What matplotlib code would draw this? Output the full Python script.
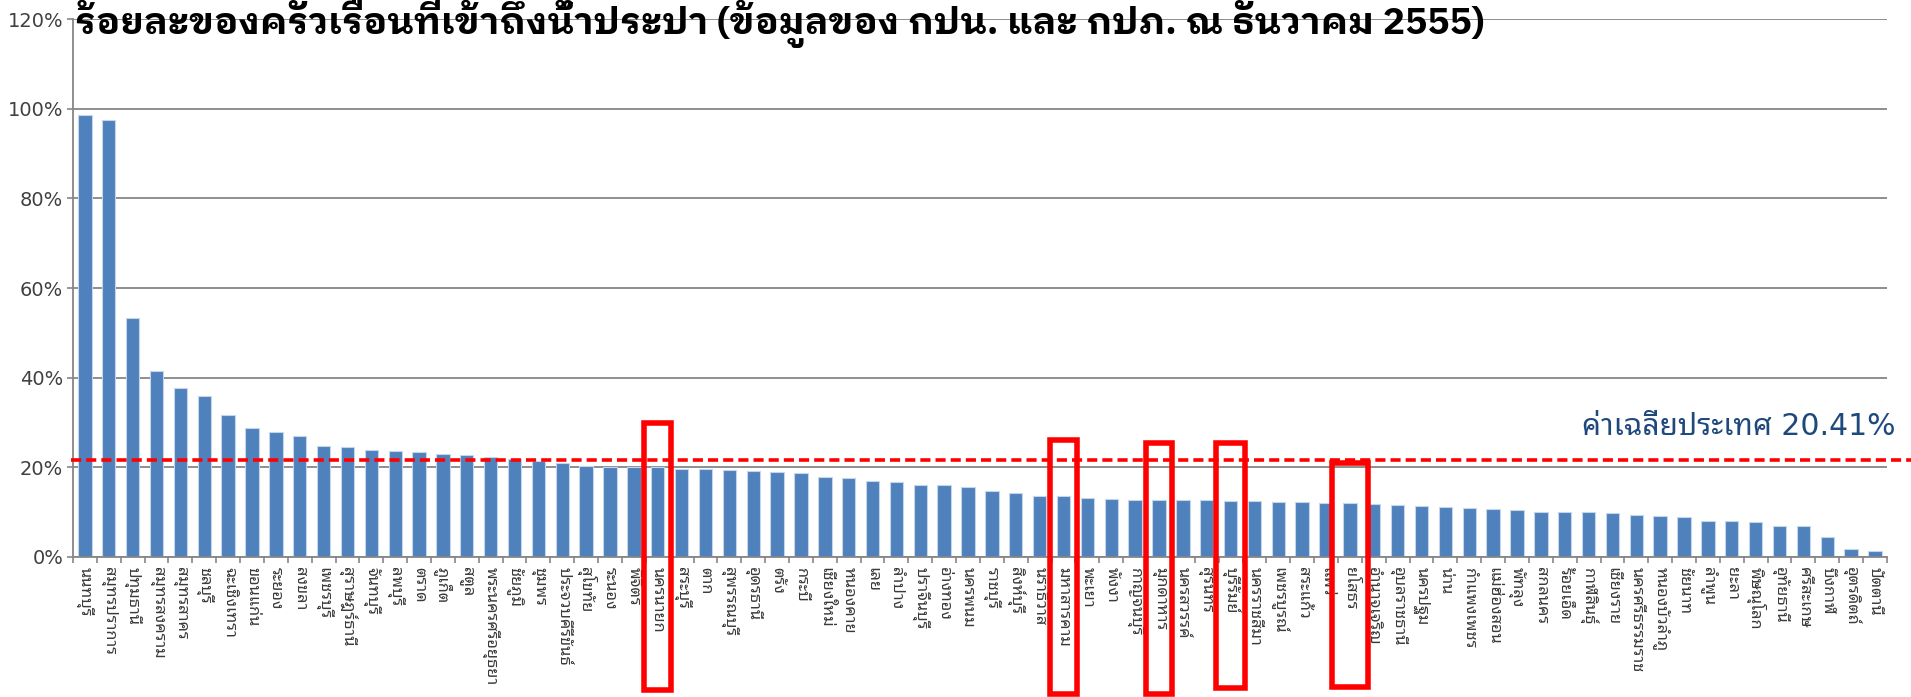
import numpy as np
import matplotlib
matplotlib.use("Agg")
import matplotlib.pyplot as plt
from matplotlib.patches import Rectangle

THAI = ['Noto Sans Thai Looped', 'DejaVu Sans']
TITLE_FONT = ['IBM Plex Sans Thai Looped', 'Noto Sans Thai Looped', 'DejaVu Sans']
LATIN_THAI = ['DejaVu Sans', 'Noto Sans Thai Looped']

provinces = [
    "นนทบุรี", "สมุทรปราการ", "ปทุมธานี", "สมุทรสงคราม", "สมุทรสาคร", "ชลบุรี",
    "ฉะเชิงเทรา", "ขอนแก่น", "ระยอง", "สงขลา", "เพชรบุรี", "สุราษฎร์ธานี",
    "จันทบุรี", "ลพบุรี", "ตราด", "ภูเก็ต", "สตูล", "พระนครศรีอยุธยา",
    "ชัยภูมิ", "ชุมพร", "ประจวบคีรีขันธ์", "สุโขทัย", "ระนอง", "พิจิตร",
    "นครนายก", "สระบุรี", "ตาก", "สุพรรณบุรี", "อุดรธานี", "ตรัง",
    "กระบี่", "เชียงใหม่", "หนองคาย", "เลย", "ลำปาง", "ปราจีนบุรี",
    "อ่างทอง", "นครพนม", "ราชบุรี", "สิงห์บุรี", "นราธิวาส", "มหาสารคาม",
    "พะเยา", "พังงา", "กาญจนบุรี", "มุกดาหาร", "นครสวรรค์", "สุรินทร์",
    "บุรีรัมย์", "นครราชสีมา", "เพชรบูรณ์", "สระแก้ว", "แพร่", "ยโสธร",
    "อำนาจเจริญ", "อุบลราชธานี", "นครปฐม", "น่าน", "กำแพงเพชร", "แม่ฮ่องสอน",
    "พัทลุง", "สกลนคร", "ร้อยเอ็ด", "กาฬสินธุ์", "เชียงราย", "นครศรีธรรมราช",
    "หนองบัวลำภู", "ชัยนาท", "ลำพูน", "ยะลา", "พิษณุโลก", "อุทัยธานี",
    "ศรีสะเกษ", "บึงกาฬ", "อุตรดิตถ์", "ปัตตานี",
]

access_pct = [
    98.6, 97.4, 53.4, 41.5, 37.8, 35.8, 31.6, 28.7, 27.9, 27.0, 24.8, 24.5,
    23.8, 23.7, 23.5, 23.0, 22.7, 22.3, 21.9, 21.3, 21.0, 20.4, 20.1, 20.1,
    20.0, 19.7, 19.6, 19.5, 19.1, 18.9, 18.8, 17.8, 17.6, 17.0, 16.7, 16.1,
    16.1, 15.5, 14.8, 14.2, 13.7, 13.5, 13.2, 12.9, 12.8, 12.7, 12.6, 12.6,
    12.4, 12.4, 12.3, 12.3, 12.1, 12.0, 11.9, 11.6, 11.4, 11.2, 11.0, 10.7,
    10.4, 10.1, 10.1, 10.0, 9.8, 9.4, 9.1, 8.9, 8.1, 8.0, 7.8, 6.8,
    6.8, 4.4, 1.7, 1.3,
]

y_ticks = [0, 20, 40, 60, 80, 100, 120]
y_tick_labels = ["0%", "20%", "40%", "60%", "80%", "100%", "120%"]

title = "ร้อยละของครัวเรือนที่เข้าถึงน้ำประปา (ข้อมูลของ กปน. และ กปภ. ณ ธันวาคม 2555)"
average_label = "ค่าเฉลี่ยประเทศ 20.41%"
# the dashed line sits a bit above 20% in the original drawing
average_line = 21.6

# highlighted provinces: (name, box width in categories, top %, bottom %)
highlight_boxes = [
    ("นครนายก", 1.12, 29.8, -29.7),
    ("มหาสารคาม", 1.16, 26.2, -30.5),
    ("มุกดาหาร", 1.12, 25.4, -30.5),
    ("บุรีรัมย์", 1.25, 25.4, -29.2),
    ("ยโสธร", 1.5, 20.9, -28.9),
]

grey = "#868686"

fig = plt.figure(figsize=(19.11, 6.97), dpi=100)
ax = fig.add_axes([0.0382, 0.2009, 0.9492, 0.7718])

x = np.arange(len(provinces))
ax.bar(x, access_pct, width=0.56, color="#4F81BD", edgecolor="#C6D6EA",
       linewidth=0.8, zorder=3)

ax.set_xlim(-0.5, len(provinces) - 0.5)
ax.set_ylim(0, 120)
ax.set_yticks(y_ticks)
ax.set_yticklabels(y_tick_labels, family=LATIN_THAI, fontsize=14, color="#404040")
ax.set_xticks(x)
ax.set_xticklabels(provinces, rotation=270, family=THAI, fontsize=11.8,
                   color="#3a3a3a", va="top", ha="center")
ax.set_xticks(np.arange(len(provinces) + 1) - 0.5, minor=True)
ax.tick_params(axis="x", which="major", length=0, pad=7)
ax.tick_params(axis="x", which="minor", length=4, width=1.2, color=grey, direction="out")
ax.tick_params(axis="y", length=4, width=1.2, color=grey, direction="out", pad=3)

ax.yaxis.grid(True, color=grey, linewidth=1.3, zorder=0)
ax.set_axisbelow(True)
for side in ["top", "right"]:
    ax.spines[side].set_visible(False)
for side in ["left", "bottom"]:
    ax.spines[side].set_color(grey)
    ax.spines[side].set_linewidth(1.3)
ax.spines["bottom"].set_zorder(4)

# national average
ax.plot([-0.6, len(provinces) + 0.6], [average_line, average_line], color="#FF0000",
        linewidth=2.6, dashes=(2.8, 1.4), clip_on=False, zorder=5)
fig.text(0.992, 1 - 435 / 697, average_label, family=LATIN_THAI, fontsize=21.5,
         color="#1F497D", ha="right", va="baseline")

for name, width, top, bottom in highlight_boxes:
    i = provinces.index(name)
    box = Rectangle((i - width / 2, bottom), width, top - bottom, fill=False,
                    edgecolor="#FF0000", linewidth=4, clip_on=False, zorder=6)
    ax.add_patch(box)

fig.text(0.039, 1 - 34 / 697, title, family=TITLE_FONT, fontweight="bold",
         fontsize=26.8, color="black", ha="left", va="baseline")

fig.savefig("out.png", dpi=100)
